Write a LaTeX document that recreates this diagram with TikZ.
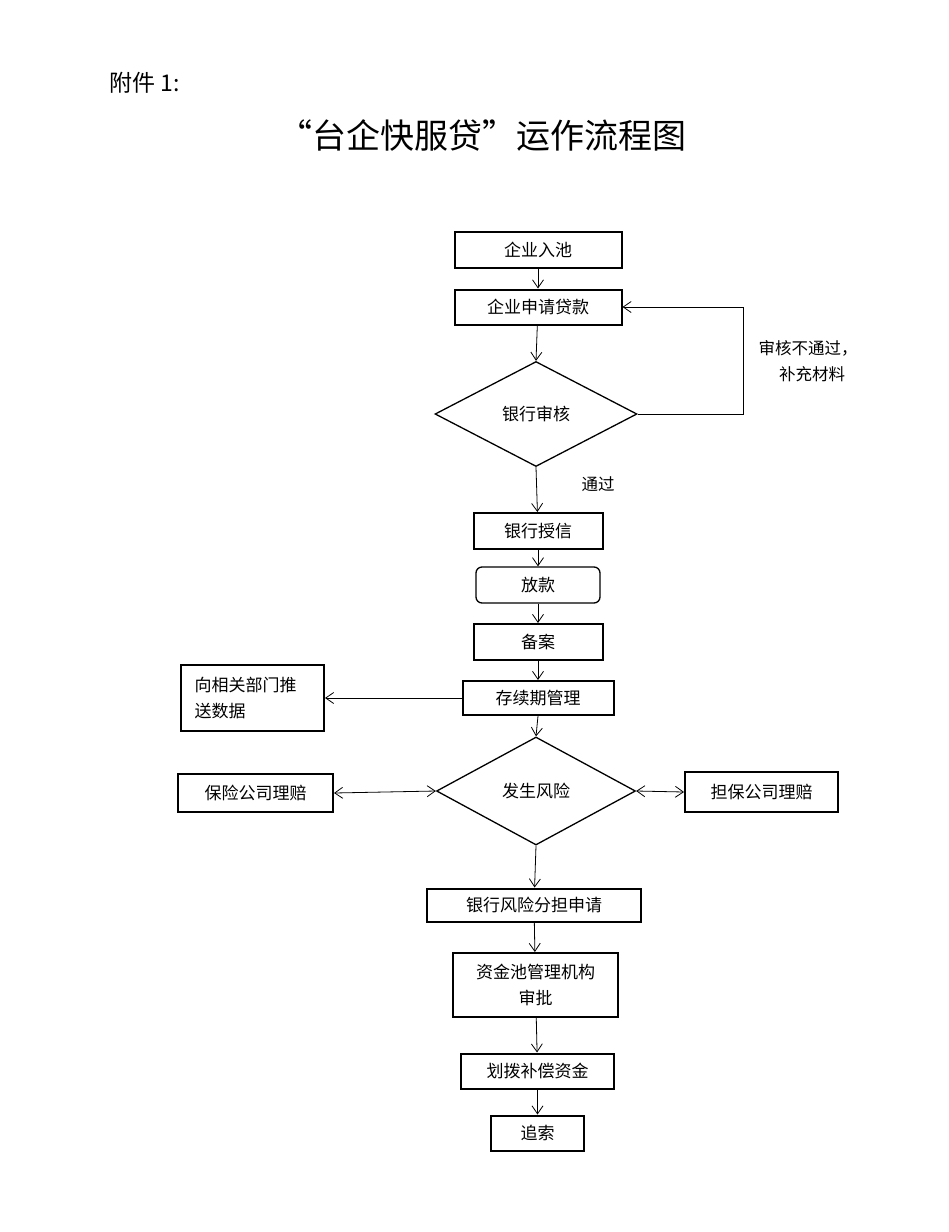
\documentclass[tikz,border=0pt]{standalone}
\usepackage{fontspec}
\setmainfont{Noto Sans CJK SC}
\usetikzlibrary{arrows.meta,shapes.geometric}
\begin{document}
\begin{tikzpicture}[
  x=1pt, y=-1pt,
  box/.style={rectangle, draw, line width=2pt, inner sep=2pt, font=\fontsize{17}{26}\selectfont},
  softbox/.style={box, line width=1.3pt, rounded corners=6pt},
  choice/.style={diamond, draw, line width=1.3pt, aspect=1.9, inner sep=0pt, font=\fontsize{17}{26}\selectfont},
  flow/.style={-{Straight Barb[length=8pt,width=11pt]}, line width=0.8pt},
  both/.style={{Straight Barb[length=8pt,width=11pt]}-{Straight Barb[length=8pt,width=11pt]}, line width=0.8pt},
  note/.style={font=\fontsize{16.5}{20}\selectfont},
]
  \useasboundingbox (0,0) rectangle (949,1232);

  \node[font=\fontsize{23}{26}\selectfont, anchor=west] (att) at (106, 83) {附件 1:};
  \node[font=\fontsize{34}{38}\selectfont] (title) at (482, 135) {“台企快服贷”运作流程图};

  \node[box, minimum width=167pt, minimum height=36pt] (pool) at (538, 250) {企业入池};
  \node[box, minimum width=167pt, minimum height=35pt] (apply) at (538, 307) {企业申请贷款};
  \node[choice, minimum width=202pt, minimum height=105pt] (audit) at (536, 414) {银行审核};
  \node[box, minimum width=129pt, minimum height=36pt] (credit) at (538, 531) {银行授信};
  \node[softbox, minimum width=124pt, minimum height=36pt] (loan) at (538, 585) {放款};
  \node[box, minimum width=129pt, minimum height=36pt] (record) at (538, 642) {备案};
  \node[box, minimum width=151pt, minimum height=34pt] (manage) at (538, 698) {存续期管理};
  \node[box, minimum width=143pt, minimum height=66pt, align=left, text width=116pt] (push) at (252.5, 698) {向相关部门推\\送数据};
  \node[choice, minimum width=199pt, minimum height=108pt] (risk) at (536, 791) {发生风险};
  \node[box, minimum width=155pt, minimum height=38pt] (insure) at (255.5, 793) {保险公司理赔};
  \node[box, minimum width=153pt, minimum height=40pt] (guarant) at (761.5, 792) {担保公司理赔};
  \node[box, minimum width=214pt, minimum height=33pt] (share) at (534, 905) {银行风险分担申请};
  \node[box, minimum width=165pt, minimum height=64pt, align=center] (approve) at (535.5, 985) {资金池管理机构\\审批};
  \node[box, minimum width=153pt, minimum height=35pt] (fund) at (537.5, 1071) {划拨补偿资金};
  \node[box, minimum width=93pt, minimum height=35pt] (recover) at (537.5, 1133) {追索};

  \coordinate (loopR) at (743, 414);
  \draw[flow] (pool) -- (apply);
  \draw[flow] (apply) -- (audit.north);
  \draw[flow] (audit.east) -- (loopR) |- (apply.east);
  \draw[flow] (audit.south) -- (credit);
  \draw[flow] (credit) -- (loan);
  \draw[flow] (loan) -- (record);
  \draw[flow] (record) -- (manage);
  \draw[flow] (manage.west) -- (push.east);
  \draw[flow] (manage.south) -- (risk.north);
  \draw[both] (insure.east) -- (risk.west);
  \draw[both] (risk.east) -- (guarant.west);
  \draw[flow] (risk.south) -- (share);
  \draw[flow] (share) -- (approve);
  \draw[flow] (approve) -- (fund);
  \draw[flow] (fund) -- (recover);

  \node[note] (fail) at (808, 348) {审核不通过，};
  \node[note] (more) at (812, 374) {补充材料};
  \node[note] (pass) at (598, 484) {通过};
\end{tikzpicture}
\end{document}
